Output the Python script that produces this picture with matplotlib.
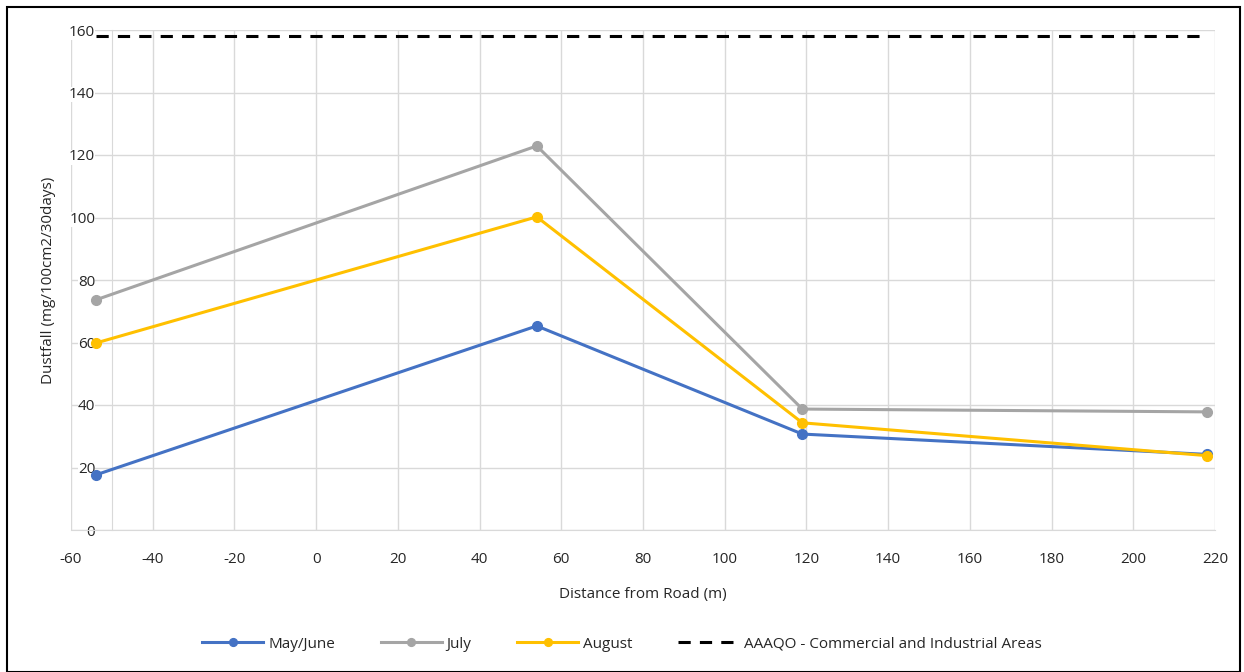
import matplotlib.pyplot as plt
from matplotlib.patches import Rectangle

plt.rcParams['font.family'] = ['Open Sans', 'DejaVu Sans']
plt.rcParams['axes.unicode_minus'] = False

# distance from road (m)
distance = [-54, 54, 119, 218]
may_june = [17.6, 65.3, 30.7, 24.2]
july = [73.6, 122.9, 38.7, 37.8]
august = [59.8, 100.2, 34.3, 23.8]

aaaqo_x = [-54, 218]
aaaqo_y = [158, 158]

xticks = list(range(-60, 221, 20))
yticks = list(range(0, 161, 20))

txt = '#262626'

fig = plt.figure(figsize=(12.44, 6.72), dpi=100)
ax = fig.add_axes([71 / 1244, 1 - 530 / 672, (1215 - 71) / 1244, 500 / 672])

ax.plot(distance, may_june, color='#4472C4', lw=2.2, marker='o', ms=7, label='May/June', zorder=3)
ax.plot(distance, july, color='#A5A5A5', lw=2.2, marker='o', ms=7, label='July', zorder=3)
ax.plot(distance, august, color='#FFC000', lw=2.2, marker='o', ms=7, label='August', zorder=3)
ax.plot(aaaqo_x, aaaqo_y, color='black', lw=2.2, ls=(0, (4, 3)),
        label='AAAQO - Commercial and Industrial Areas', zorder=3)

ax.set_xlim(-60, 220)
ax.set_ylim(0, 160)
ax.set_xticks(xticks)
ax.set_yticks(yticks)
ax.grid(True, color='#d9d9d9', lw=1)
ax.set_axisbelow(True)

for s in ['top', 'right']:
    ax.spines[s].set_visible(False)
ax.spines['bottom'].set_color('#d9d9d9')
ax.spines['left'].set_position(('data', -50))
ax.spines['left'].set_color('#d9d9d9')
ax.tick_params(length=0, labelsize=11, colors=txt)
ax.tick_params(axis='x', pad=16)
ax.tick_params(axis='y', pad=12)
for lab in ax.get_yticklabels():
    lab.set_bbox(dict(facecolor='white', edgecolor='none', pad=0))

ax.set_xlabel('Distance from Road (m)', fontsize=11, color=txt, labelpad=14)
ax.set_ylabel('Dustfall (mg/100cm2/30days)', fontsize=11, color=txt)
ax.yaxis.set_label_coords(-0.013, 0.5)

fig.legend(loc='center', bbox_to_anchor=(0.5, 1 - 644 / 672), ncol=4, frameon=False,
           fontsize=11, handlelength=4, columnspacing=3, handletextpad=0.3, markerscale=0.8,
           labelcolor=txt)

fig.add_artist(Rectangle((7 / 1244, 0), 1 - 11 / 1244, 1 - 7 / 672, transform=fig.transFigure,
                         fill=False, edgecolor='black', lw=1.5))

fig.savefig('out.png', dpi=100)
